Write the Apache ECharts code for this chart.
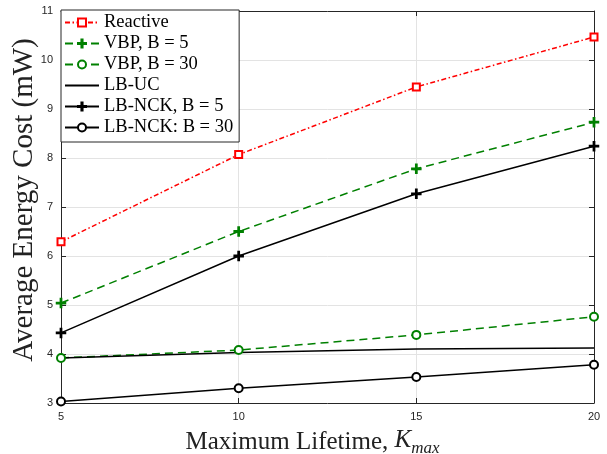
<!DOCTYPE html>
<html><head><meta charset="utf-8">
<script src="https://cdn.jsdelivr.net/npm/echarts@6/dist/echarts.min.js"></script>
<style>html,body{margin:0;padding:0;background:#fff}#c{width:607px;height:454px}</style>
</head><body><div id="c"></div>
<script>
const kmax = [5, 10, 15, 20];
const reactive = [6.29, 8.07, 9.45, 10.47];
const vbp5 = [5.04, 6.50, 7.78, 8.73];
const vbp30 = [3.92, 4.08, 4.39, 4.76];
const lbuc = [3.92, 4.03, 4.10, 4.12];
const lbnck5 = [4.43, 6.00, 7.27, 8.24];
const lbnck30 = [3.03, 3.30, 3.53, 3.78];
const names = ['Reactive', 'VBP, B = 5', 'VBP, B = 30', 'LB-UC', 'LB-NCK, B = 5', 'LB-NCK: B = 30'];

const pair = v => kmax.map((k, i) => [k, v[i]]);
const plus = 'path://M4.3,0H5.7V4.3H10V5.7H5.7V10H4.3V5.7H0V4.3H4.3Z';
const serif = '"Liberation Serif", "Times New Roman", serif';
const sans = '"Liberation Sans", Arial, Helvetica, sans-serif';
const axisCol = '#262626';

function mk(name, data, color, type, symbol, size) {
  return {
    name, type: 'line', data: pair(data), xAxisIndex: 0, yAxisIndex: 0,
    symbol: symbol || 'none', symbolSize: size || 8, showSymbol: !!symbol,
    lineStyle: { color, width: 1.5, type },
    itemStyle: { color, borderColor: color, borderWidth: 1.5 },
    emphasis: { disabled: true }, animation: false
  };
}

const chart = echarts.init(document.getElementById('c'), null, { renderer: 'canvas' });
chart.setOption({
  animation: false,
  backgroundColor: '#fff',
  grid: { left: 61, right: 13, top: 11, bottom: 51, outerBoundsMode: 'none', containLabel: false },
  legend: {
    left: 61, top: 10, orient: 'vertical',
    data: names.map((n, i) => i === 3 ? { name: n, itemStyle: { opacity: 0 } } : n),
    backgroundColor: '#fff', borderColor: axisCol, borderWidth: 1, borderRadius: 0,
    padding: [3, 6, 5, 3], itemGap: 2, itemWidth: 34, itemHeight: 10,
    textStyle: { fontFamily: serif, fontSize: 18.5, color: '#000' },
    selectedMode: false
  },
  xAxis: [{
    type: 'value', min: 5, max: 20, interval: 5,
    name: 'Maximum Lifetime, {k|K}{s|max}', nameLocation: 'middle', nameGap: 25,
    nameTextStyle: {
      fontFamily: serif, fontSize: 25, color: '#222', verticalAlign: 'top', padding: [0, 30, 0, 0],
      rich: {
        k: { fontFamily: serif, fontSize: 25, fontStyle: 'italic', color: '#222', verticalAlign: 'top' },
        s: { fontFamily: serif, fontSize: 17, fontStyle: 'italic', color: '#222', verticalAlign: 'top', padding: [12, 0, 0, 0] }
      }
    },
    axisLine: { show: true, lineStyle: { color: axisCol, width: 1 } },
    axisTick: { show: true, inside: true, length: 5, lineStyle: { color: axisCol } },
    axisLabel: { fontFamily: sans, fontSize: 11, color: axisCol, margin: 8 },
    splitLine: { show: true, lineStyle: { color: '#e3e3e3', width: 1 } }
  }, {
    type: 'value', min: 5, max: 20, interval: 5, position: 'top',
    axisLine: { show: true, onZero: false, lineStyle: { color: axisCol, width: 1 } },
    axisTick: { show: true, inside: true, length: 5, lineStyle: { color: axisCol } },
    axisLabel: { show: false }, splitLine: { show: false }
  }],
  yAxis: [{
    type: 'value', min: 3, max: 11, interval: 1,
    name: 'Average Energy Cost (mW)', nameLocation: 'middle', nameGap: 22, nameMoveOverlap: false,
    nameTextStyle: { fontFamily: serif, fontSize: 29, color: '#222', padding: [0, 0, 0, 14] },
    axisLine: { show: true, lineStyle: { color: axisCol, width: 1 } },
    axisTick: { show: true, inside: true, length: 5, lineStyle: { color: axisCol } },
    axisLabel: { fontFamily: sans, fontSize: 11, color: axisCol, margin: 8 },
    splitLine: { show: true, lineStyle: { color: '#e3e3e3', width: 1 } }
  }, {
    type: 'value', min: 3, max: 11, interval: 1, position: 'right',
    axisLine: { show: true, onZero: false, lineStyle: { color: axisCol, width: 1 } },
    axisTick: { show: true, inside: true, length: 5, lineStyle: { color: axisCol } },
    axisLabel: { show: false }, splitLine: { show: false }
  }],
  series: [
    mk(names[0], reactive, '#ff0000', [5, 2.5, 1.5, 2.5], 'emptyRect', 7),
    mk(names[1], vbp5, '#008000', [8, 5], plus, 9),
    mk(names[2], vbp30, '#008000', [8, 5], 'emptyCircle', 8),
    mk(names[3], lbuc, '#000000', 'solid', null),
    mk(names[4], lbnck5, '#000000', 'solid', plus, 9),
    mk(names[5], lbnck30, '#000000', 'solid', 'emptyCircle', 8)
  ]
});
</script>
</body></html>
